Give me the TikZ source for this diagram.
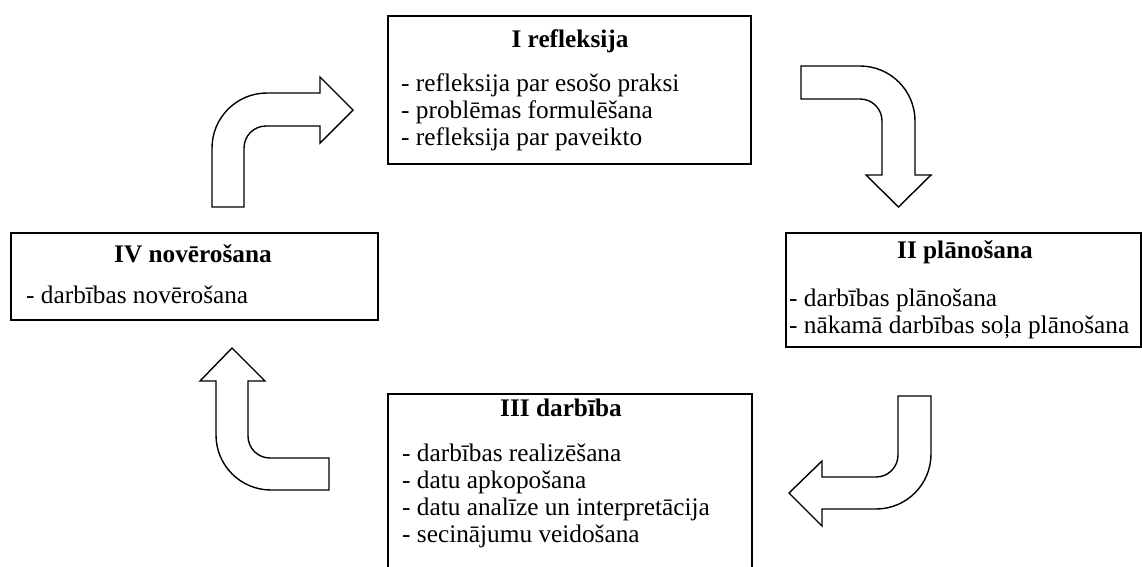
\documentclass[tikz,border=0pt]{standalone}
\usepackage{fontspec}
\setmainfont{Liberation Serif}
\begin{document}
\begin{tikzpicture}[x=1pt,y=-1pt,
  frame/.style={draw=black,line width=1.6pt,fill=white,inner sep=0pt,anchor=north west},
  ttl/.style={anchor=base,inner sep=0pt,font=\fontsize{25.3}{27}\selectfont\bfseries},
  itm/.style={anchor=base west,inner sep=0pt,font=\fontsize{25.3}{27}\selectfont},
  blockarrow/.style={draw=black,line width=1.4pt,fill=white,line join=miter}]
\useasboundingbox (0,0) rectangle (1142,566);

% stage boxes
\node[frame,minimum width=363pt,minimum height=148pt] (b1) at (387,15) {};
\node[frame,minimum width=355pt,minimum height=114pt] (b2) at (785,232) {};
\node[frame,minimum width=364pt,minimum height=190pt] (b3) at (387,393) {};
\node[frame,minimum width=367pt,minimum height=87pt] (b4) at (10,232) {};

% I
\node[ttl] (t1) at (570,47) {I refleksija};
\node[itm] (l11) at (401,91) {- refleksija par esošo praksi};
\node[itm] (l12) at (401,118) {- problēmas formulēšana};
\node[itm] (l13) at (401,145) {- refleksija par paveikto};

% II
\node[ttl] (t2) at (965,258) {II plānošana};
\node[itm] (l21) at (789,306) {- darbības plānošana};
\node[itm] (l22) at (789,333) {- nākamā darbības soļa plānošana};

% III
\node[ttl] (t3) at (561,416) {III darbība};
\node[itm] (l31) at (402,461) {- darbības realizēšana};
\node[itm] (l32) at (402,488) {- datu apkopošana};
\node[itm] (l33) at (402,515) {- datu analīze un interpretācija};
\node[itm] (l34) at (402,542) {- secinājumu veidošana};

% IV
\node[ttl] (t4) at (193,262) {IV novērošana};
\node[itm] (l41) at (26,303) {- darbības novērošana};

% bent block arrows between the stages
% IV -> I
\draw[blockarrow] (212,207) -- (212,148) .. controls (212,117.6) and (236.6,93) .. (267,93)
  -- (320,93) -- (320,77) -- (353,110) -- (320,143) -- (320,126) -- (266,126)
  .. controls (253.8,126) and (244,135.8) .. (244,148) -- (244,207) -- cycle;
% I -> II
\draw[blockarrow] (801,66) -- (860,66) .. controls (890.4,66) and (915,90.6) .. (915,121)
  -- (915,175) -- (931,175) -- (898.5,207) -- (866,175) -- (882,175) -- (882,121)
  .. controls (882,108.8) and (872.2,99) .. (860,99) -- (801,99) -- cycle;
% II -> III
\draw[blockarrow] (898,396) -- (931,396) -- (931,454) .. controls (931,484.4) and (906.4,509) .. (876,509)
  -- (822,509) -- (822,526) -- (789,493) -- (822,461) -- (822,477) -- (876,477)
  .. controls (888.2,477) and (898,467.2) .. (898,455) -- cycle;
% III -> IV
\draw[blockarrow] (329,458) -- (329,490) -- (271,490) .. controls (240.6,490) and (216,465.4) .. (216,435)
  -- (216,381) -- (200,381) -- (232,348) -- (265,381) -- (248,381) -- (248,436)
  .. controls (248,448.2) and (257.8,458) .. (270,458) -- cycle;
\end{tikzpicture}
\end{document}
